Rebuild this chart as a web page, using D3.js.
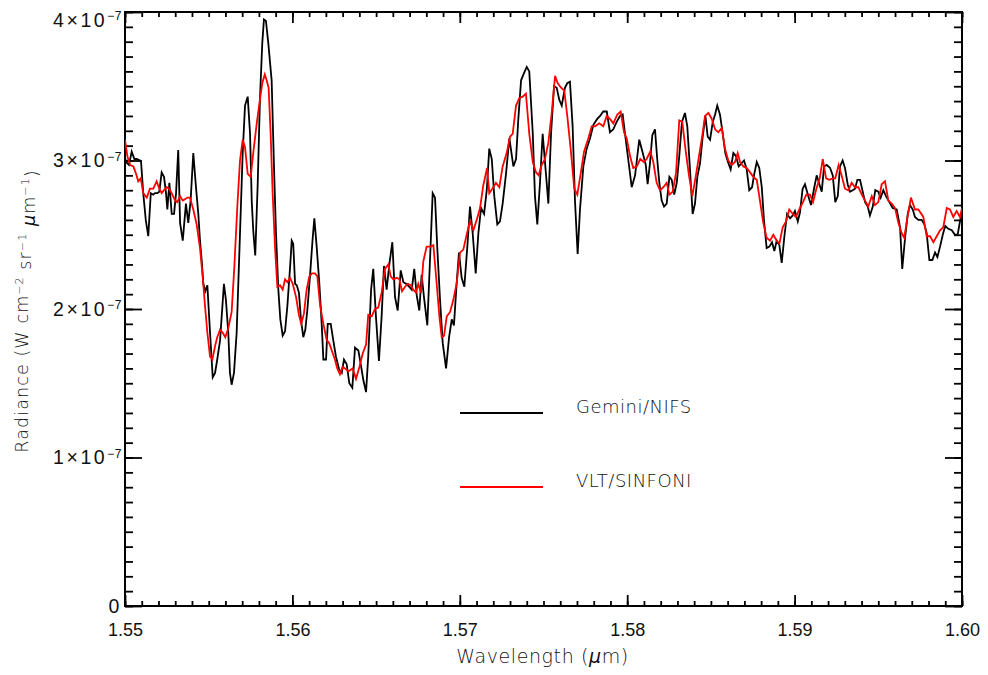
<!DOCTYPE html>
<html>
<head>
<meta charset="utf-8">
<script src="https://cdn.jsdelivr.net/npm/d3@7"></script>
<style>
  body { margin: 0; background: #fff; }
  svg { display: block; background: #fff; font-family: "DejaVu Sans", sans-serif; }
  .axis text { fill: #111; font-size: 18px; font-weight: 200; }
  .y-axis text { font-size: 19.5px; letter-spacing: 2.6px; }
  .axis line { stroke: #000; stroke-width: 1.8px; }
  .axis .domain { display: none; }
  .frame { fill: none; stroke: #000; stroke-width: 2px; }
  .title { fill: #111; font-weight: 200; }
  .series { fill: none; stroke-width: 1.8px; }
</style>
</head>
<body>
<svg id="chart"></svg>
<script>
// Radiance values are in units of 1e-7 W cm^-2 sr^-1 um^-1, wavelength in um

const geminiWavelength = [
  1.55000, 1.55006, 1.55024, 1.55040, 1.55056, 1.55070, 1.55090, 1.55096, 1.55109, 1.55124,
  1.55139, 1.55154, 1.55169, 1.55179, 1.55193, 1.55205, 1.55219, 1.55233, 1.55245, 1.55253,
  1.55265, 1.55279, 1.55293, 1.55305, 1.55318, 1.55329, 1.55345, 1.55364, 1.55378, 1.55392,
  1.55408, 1.55424, 1.55438, 1.55448, 1.55458, 1.55468, 1.55480, 1.55492, 1.55508, 1.55524,
  1.55538, 1.55551, 1.55568, 1.55591, 1.55603, 1.55617, 1.55627, 1.55637, 1.55651, 1.55667,
  1.55687, 1.55703, 1.55717, 1.55733, 1.55747, 1.55757, 1.55766, 1.55778, 1.55793, 1.55806,
  1.55820, 1.55830, 1.55842, 1.55856, 1.55876, 1.55890, 1.55902, 1.55916, 1.55928, 1.55942,
  1.55956, 1.55970, 1.55986, 1.55996, 1.56005, 1.56016, 1.56026, 1.56039, 1.56051, 1.56065,
  1.56077, 1.56089, 1.56105, 1.56120, 1.56131, 1.56145, 1.56161, 1.56175, 1.56185, 1.56201,
  1.56211, 1.56229, 1.56244, 1.56260, 1.56280, 1.56295, 1.56308, 1.56324, 1.56340, 1.56358,
  1.56374, 1.56394, 1.56408, 1.56424, 1.56440, 1.56453, 1.56470, 1.56483, 1.56499, 1.56517,
  1.56533, 1.56547, 1.56563, 1.56579, 1.56597, 1.56613, 1.56629, 1.56647, 1.56663, 1.56679,
  1.56697, 1.56713, 1.56728, 1.56743, 1.56758, 1.56772, 1.56786, 1.56806, 1.56822, 1.56838,
  1.56852, 1.56866, 1.56882, 1.56898, 1.56918, 1.56936, 1.56952, 1.56965, 1.56981, 1.56995,
  1.57011, 1.57027, 1.57045, 1.57061, 1.57077, 1.57095, 1.57111, 1.57127, 1.57145, 1.57161,
  1.57176, 1.57191, 1.57206, 1.57224, 1.57240, 1.57256, 1.57276, 1.57296, 1.57320, 1.57336,
  1.57349, 1.57366, 1.57384, 1.57400, 1.57415, 1.57436, 1.57449, 1.57463, 1.57479, 1.57495,
  1.57511, 1.57529, 1.57545, 1.57563, 1.57579, 1.57594, 1.57609, 1.57628, 1.57642, 1.57658,
  1.57674, 1.57688, 1.57704, 1.57718, 1.57738, 1.57758, 1.57778, 1.57798, 1.57821, 1.57838,
  1.57857, 1.57878, 1.57897, 1.57917, 1.57937, 1.57957, 1.57973, 1.57987, 1.58007, 1.58027,
  1.58047, 1.58072, 1.58093, 1.58111, 1.58122, 1.58136, 1.58150, 1.58166, 1.58180, 1.58192,
  1.58206, 1.58220, 1.58236, 1.58252, 1.58266, 1.58281, 1.58296, 1.58311, 1.58327, 1.58345,
  1.58359, 1.58375, 1.58391, 1.58405, 1.58419, 1.58435, 1.58451, 1.58467, 1.58481, 1.58495,
  1.58511, 1.58525, 1.58538, 1.58554, 1.58571, 1.58586, 1.58602, 1.58618, 1.58634, 1.58650,
  1.58666, 1.58682, 1.58698, 1.58714, 1.58729, 1.58746, 1.58759, 1.58774, 1.58789, 1.58804,
  1.58817, 1.58833, 1.58849, 1.58865, 1.58879, 1.58893, 1.58909, 1.58923, 1.58939, 1.58955,
  1.58973, 1.58989, 1.59002, 1.59019, 1.59032, 1.59048, 1.59062, 1.59082, 1.59098, 1.59116,
  1.59132, 1.59148, 1.59162, 1.59176, 1.59192, 1.59212, 1.59228, 1.59243, 1.59258, 1.59271,
  1.59287, 1.59301, 1.59317, 1.59331, 1.59347, 1.59361, 1.59375, 1.59391, 1.59407, 1.59421,
  1.59437, 1.59450, 1.59467, 1.59482, 1.59500, 1.59514, 1.59530, 1.59546, 1.59566, 1.59586,
  1.59610, 1.59630, 1.59643, 1.59660, 1.59676, 1.59689, 1.59706, 1.59719, 1.59739, 1.59759,
  1.59775, 1.59789, 1.59805, 1.59823, 1.59839, 1.59853, 1.59869, 1.59885, 1.59900, 1.59918,
  1.59939, 1.59958, 1.59974, 1.59988, 1.60000
];

const geminiRadiance = [
  3.02, 2.99, 2.97, 3.06, 3.01, 3.01, 3.00, 2.99, 2.78, 2.60,
  2.49, 2.78, 2.77, 2.78, 2.78, 2.79, 2.92, 2.89, 2.78, 2.67,
  2.85, 2.64, 2.64, 2.78, 3.07, 2.58, 2.46, 2.71, 2.58, 2.73,
  3.05, 2.82, 2.64, 2.46, 2.33, 2.17, 2.12, 2.16, 1.84, 1.54,
  1.57, 1.66, 1.79, 2.17, 2.06, 1.84, 1.57, 1.49, 1.57, 1.84,
  2.51, 3.05, 3.37, 3.43, 3.18, 2.73, 2.53, 2.36, 2.85, 3.41,
  3.79, 3.95, 3.94, 3.79, 3.54, 2.96, 2.51, 2.13, 1.93, 1.82,
  1.85, 2.02, 2.28, 2.46, 2.44, 2.17, 2.16, 2.11, 1.93, 1.81,
  1.86, 1.99, 2.22, 2.46, 2.61, 2.42, 2.17, 1.90, 1.66, 1.66,
  1.90, 1.90, 1.79, 1.68, 1.59, 1.57, 1.66, 1.63, 1.50, 1.47,
  1.74, 1.72, 1.63, 1.52, 1.44, 1.68, 2.13, 2.27, 1.95, 1.65,
  1.95, 2.29, 2.13, 2.30, 2.45, 2.08, 1.99, 2.26, 2.18, 2.17,
  2.15, 2.13, 2.27, 2.09, 1.99, 2.23, 2.08, 1.89, 2.33, 2.78,
  2.75, 2.40, 2.06, 1.77, 1.60, 1.81, 1.93, 1.89, 2.17, 2.38,
  2.21, 2.15, 2.42, 2.69, 2.51, 2.24, 2.51, 2.68, 2.64, 2.80,
  3.08, 3.01, 2.76, 2.57, 2.59, 2.71, 2.91, 3.15, 2.96, 3.01,
  3.27, 3.54, 3.59, 3.63, 3.60, 3.18, 2.76, 2.57, 2.85, 3.18,
  2.96, 2.71, 3.18, 3.50, 3.49, 3.41, 3.37, 3.49, 3.52, 3.53,
  3.23, 2.73, 2.37, 2.67, 2.96, 3.08, 3.15, 3.24, 3.28, 3.30,
  3.33, 3.33, 3.19, 3.21, 3.26, 3.30, 3.31, 3.18, 3.00, 2.82,
  2.90, 3.14, 3.05, 2.97, 2.84, 2.98, 3.17, 3.21, 3.00, 2.85,
  2.73, 2.69, 2.71, 2.89, 2.87, 2.77, 2.85, 3.03, 3.26, 3.32,
  3.23, 2.94, 2.64, 2.71, 2.89, 2.98, 3.16, 3.30, 3.16, 3.14,
  3.26, 3.31, 3.37, 3.31, 3.18, 3.05, 2.99, 2.94, 3.05, 3.03,
  2.96, 2.98, 3.00, 2.94, 2.80, 2.82, 2.91, 2.99, 2.95, 2.82,
  2.60, 2.41, 2.42, 2.45, 2.39, 2.46, 2.43, 2.31, 2.49, 2.64,
  2.61, 2.63, 2.66, 2.59, 2.65, 2.81, 2.84, 2.76, 2.70, 2.81,
  2.90, 2.84, 2.79, 2.96, 2.97, 2.95, 2.90, 2.72, 2.76, 2.96,
  3.00, 2.95, 2.84, 2.79, 2.80, 2.81, 2.87, 2.87, 2.79, 2.72,
  2.69, 2.63, 2.69, 2.80, 2.79, 2.75, 2.80, 2.76, 2.72, 2.68,
  2.67, 2.55, 2.27, 2.48, 2.64, 2.70, 2.67, 2.62, 2.60, 2.60,
  2.57, 2.51, 2.33, 2.33, 2.38, 2.35, 2.42, 2.50, 2.56, 2.54,
  2.53, 2.50, 2.50, 2.59, 2.65
];

const sinfoniWavelength = [
  1.55000, 1.55014, 1.55030, 1.55050, 1.55066, 1.55079, 1.55094, 1.55109, 1.55130, 1.55149,
  1.55169, 1.55189, 1.55205, 1.55219, 1.55233, 1.55249, 1.55263, 1.55279, 1.55299, 1.55312,
  1.55329, 1.55345, 1.55360, 1.55372, 1.55388, 1.55408, 1.55428, 1.55448, 1.55464, 1.55478,
  1.55492, 1.55508, 1.55522, 1.55538, 1.55551, 1.55568, 1.55584, 1.55599, 1.55617, 1.55637,
  1.55653, 1.55671, 1.55687, 1.55703, 1.55717, 1.55733, 1.55751, 1.55766, 1.55787, 1.55806,
  1.55820, 1.55835, 1.55846, 1.55858, 1.55870, 1.55882, 1.55896, 1.55910, 1.55926, 1.55942,
  1.55956, 1.55970, 1.55986, 1.56002, 1.56022, 1.56039, 1.56053, 1.56069, 1.56085, 1.56101,
  1.56117, 1.56135, 1.56149, 1.56165, 1.56185, 1.56205, 1.56220, 1.56235, 1.56254, 1.56268,
  1.56284, 1.56300, 1.56314, 1.56334, 1.56360, 1.56380, 1.56400, 1.56420, 1.56440, 1.56453,
  1.56474, 1.56493, 1.56513, 1.56533, 1.56553, 1.56573, 1.56587, 1.56603, 1.56623, 1.56639,
  1.56655, 1.56673, 1.56689, 1.56707, 1.56722, 1.56738, 1.56752, 1.56768, 1.56782, 1.56802,
  1.56826, 1.56842, 1.56862, 1.56878, 1.56892, 1.56906, 1.56922, 1.56942, 1.56961, 1.56981,
  1.57001, 1.57021, 1.57041, 1.57061, 1.57081, 1.57101, 1.57121, 1.57140, 1.57163, 1.57176,
  1.57194, 1.57216, 1.57236, 1.57256, 1.57280, 1.57300, 1.57316, 1.57336, 1.57355, 1.57376,
  1.57395, 1.57415, 1.57436, 1.57455, 1.57471, 1.57489, 1.57509, 1.57529, 1.57549, 1.57569,
  1.57585, 1.57605, 1.57624, 1.57642, 1.57663, 1.57684, 1.57702, 1.57722, 1.57742, 1.57768,
  1.57788, 1.57808, 1.57833, 1.57857, 1.57878, 1.57897, 1.57917, 1.57941, 1.57961, 1.57981,
  1.57997, 1.58017, 1.58036, 1.58057, 1.58078, 1.58099, 1.58116, 1.58138, 1.58156, 1.58176,
  1.58196, 1.58216, 1.58236, 1.58252, 1.58272, 1.58292, 1.58311, 1.58329, 1.58350, 1.58369,
  1.58389, 1.58409, 1.58429, 1.58449, 1.58465, 1.58485, 1.58505, 1.58525, 1.58544, 1.58565,
  1.58584, 1.58604, 1.58624, 1.58644, 1.58660, 1.58674, 1.58694, 1.58714, 1.58734, 1.58753,
  1.58774, 1.58793, 1.58813, 1.58833, 1.58853, 1.58873, 1.58893, 1.58909, 1.58929, 1.58949,
  1.58968, 1.58989, 1.59008, 1.59028, 1.59050, 1.59070, 1.59092, 1.59110, 1.59130, 1.59150,
  1.59168, 1.59188, 1.59207, 1.59228, 1.59243, 1.59263, 1.59283, 1.59301, 1.59321, 1.59341,
  1.59361, 1.59381, 1.59401, 1.59421, 1.59440, 1.59461, 1.59480, 1.59500, 1.59520, 1.59540,
  1.59560, 1.59580, 1.59600, 1.59620, 1.59640, 1.59655, 1.59673, 1.59695, 1.59719, 1.59739,
  1.59769, 1.59789, 1.59809, 1.59829, 1.59849, 1.59869, 1.59888, 1.59909, 1.59928, 1.59948,
  1.59968, 1.59988, 1.60000
];

const sinfoniRadiance = [
  3.14, 3.03, 2.97, 2.96, 2.91, 2.86, 2.88, 2.78, 2.75, 2.81,
  2.81, 2.86, 2.81, 2.78, 2.80, 2.82, 2.81, 2.78, 2.73, 2.72,
  2.76, 2.73, 2.74, 2.75, 2.75, 2.67, 2.57, 2.41, 2.22, 2.02,
  1.84, 1.68, 1.66, 1.75, 1.81, 1.86, 1.84, 1.81, 1.87, 1.98,
  2.28, 2.69, 3.00, 3.14, 3.09, 2.91, 2.89, 3.05, 3.25, 3.41,
  3.52, 3.58, 3.54, 3.49, 3.18, 2.78, 2.42, 2.15, 2.16, 2.13,
  2.20, 2.18, 2.21, 2.17, 2.08, 1.96, 1.90, 1.97, 2.13, 2.22,
  2.24, 2.24, 2.22, 2.03, 1.90, 1.79, 1.77, 1.72, 1.66, 1.60,
  1.56, 1.61, 1.60, 1.58, 1.60, 1.53, 1.61, 1.70, 1.76, 1.96,
  1.95, 2.00, 2.01, 2.11, 2.27, 2.30, 2.22, 2.20, 2.21, 2.20,
  2.12, 2.15, 2.17, 2.16, 2.13, 2.11, 2.17, 2.11, 2.32, 2.42,
  2.42, 2.43, 2.17, 1.95, 1.81, 1.82, 1.95, 1.98, 2.06, 2.17,
  2.38, 2.40, 2.50, 2.59, 2.53, 2.60, 2.68, 2.83, 2.95, 2.78,
  2.81, 2.85, 2.82, 2.96, 3.05, 3.16, 3.18, 3.37, 3.42, 3.43,
  3.45, 3.18, 2.99, 2.92, 2.90, 2.97, 3.01, 3.12, 3.32, 3.57,
  3.52, 3.49, 3.47, 3.30, 3.07, 2.81, 2.77, 2.91, 3.06, 3.15,
  3.23, 3.23, 3.25, 3.23, 3.30, 3.28, 3.25, 3.31, 3.33, 3.19,
  3.15, 3.03, 2.95, 2.96, 3.01, 2.99, 3.01, 3.06, 2.99, 2.85,
  2.80, 2.82, 2.85, 2.77, 2.79, 2.92, 3.27, 3.26, 3.06, 2.90,
  2.76, 2.89, 3.03, 3.17, 3.30, 3.32, 3.28, 3.21, 3.19, 3.22,
  3.08, 3.00, 2.97, 2.99, 3.05, 2.99, 2.96, 2.95, 2.92, 2.89,
  2.87, 2.73, 2.58, 2.48, 2.46, 2.50, 2.46, 2.44, 2.55, 2.59,
  2.67, 2.64, 2.62, 2.67, 2.72, 2.77, 2.77, 2.72, 2.81, 2.88,
  3.01, 2.88, 2.87, 2.88, 2.88, 2.97, 2.89, 2.81, 2.80, 2.85,
  2.82, 2.82, 2.77, 2.73, 2.69, 2.76, 2.70, 2.72, 2.84, 2.86,
  2.73, 2.71, 2.68, 2.58, 2.51, 2.48, 2.61, 2.75, 2.67, 2.67,
  2.62, 2.49, 2.49, 2.45, 2.49, 2.53, 2.55, 2.68, 2.67, 2.62,
  2.66, 2.62, 2.68
];

const xTickValues = [1.55, 1.56, 1.57, 1.58, 1.59, 1.60];
const yTickValues = [0, 1, 2, 3, 4];   // x 1e-7
const xMinorStep = 0.001;
const yMinorStep = 0.1;
const seriesNames = ['Gemini/NIFS', 'VLT/SINFONI'];
const seriesColors = ['#000000', '#ff0000'];

class SpectrumChart {
    constructor(_config, _series) {
        this.config = {
            parentElement: _config.parentElement,
            width: _config.width,
            height: _config.height,
            margin: _config.margin
        };
        this.series = _series;
        this.initVis();
    }

    initVis() {
        let vis = this;

        vis.width = vis.config.width - vis.config.margin.left - vis.config.margin.right;
        vis.height = vis.config.height - vis.config.margin.top - vis.config.margin.bottom;

        vis.xScale = d3.scaleLinear()
            .domain(d3.extent(xTickValues))
            .range([0, vis.width]);
        vis.yScale = d3.scaleLinear()
            .domain(d3.extent(yTickValues))
            .range([vis.height, 0]);

        const xMinor = d3.range(Math.round((xTickValues[5] - xTickValues[0]) / xMinorStep) + 1)
            .map(i => xTickValues[0] + i * xMinorStep);
        const yMinor = d3.range(Math.round((yTickValues[4] - yTickValues[0]) / yMinorStep) + 1)
            .map(i => yTickValues[0] + i * yMinorStep);

        vis.svg = d3.select(vis.config.parentElement)
            .attr('width', vis.config.width)
            .attr('height', vis.config.height);

        vis.chart = vis.svg.append('g')
            .attr('transform', `translate(${vis.config.margin.left},${vis.config.margin.top})`);

        vis.svg.append('defs').append('clipPath')
            .attr('id', 'plot-clip')
            .append('rect')
            .attr('width', vis.width)
            .attr('height', vis.height);

        // ticks point inward on all four sides, like an IDL plot box
        const axes = [
            {axis: d3.axisBottom(vis.xScale).tickValues(xMinor).tickSize(-5).tickFormat(''), t: `translate(0,${vis.height})`},
            {axis: d3.axisTop(vis.xScale).tickValues(xMinor).tickSize(-5).tickFormat(''), t: 'translate(0,0)'},
            {axis: d3.axisTop(vis.xScale).tickValues(xTickValues).tickSize(-11).tickFormat(''), t: 'translate(0,0)'},
            {axis: d3.axisLeft(vis.yScale).tickValues(yMinor).tickSize(-8).tickFormat(''), t: 'translate(0,0)'},
            {axis: d3.axisRight(vis.yScale).tickValues(yMinor).tickSize(-8).tickFormat(''), t: `translate(${vis.width},0)`},
            {axis: d3.axisRight(vis.yScale).tickValues(yTickValues).tickSize(-17).tickFormat(''), t: `translate(${vis.width},0)`}
        ];
        axes.forEach(a => {
            vis.chart.append('g')
                .attr('class', 'axis')
                .attr('transform', a.t)
                .call(a.axis);
        });

        vis.xAxisG = vis.chart.append('g')
            .attr('class', 'axis x-axis')
            .attr('transform', `translate(0,${vis.height})`)
            .call(d3.axisBottom(vis.xScale)
                .tickValues(xTickValues)
                .tickSize(-11)
                .tickPadding(17)
                .tickFormat(d3.format('.2f')));

        vis.yAxisG = vis.chart.append('g')
            .attr('class', 'axis y-axis')
            .call(d3.axisLeft(vis.yScale)
                .tickValues(yTickValues)
                .tickSize(-17)
                .tickPadding(3)
                .tickFormat(d => d));

        // n x 10^-7 labels
        vis.yAxisG.selectAll('.tick text').each(function(d) {
            const t = d3.select(this);
            if (d === 0) return;
            t.text(null)
                .attr('y', d === yTickValues[yTickValues.length - 1] ? 8 : 0);
            t.append('tspan').text(d + '×10');
            t.append('tspan')
                .attr('dy', '-0.55em')
                .style('font-size', '12px')
                .style('letter-spacing', '0.5px')
                .text('−7');
        });

        vis.chart.append('rect')
            .attr('class', 'frame')
            .attr('width', vis.width)
            .attr('height', vis.height);

        // axis titles
        vis.svg.append('text')
            .attr('class', 'title')
            .attr('x', vis.config.margin.left + vis.width / 2 - 1)
            .attr('y', 663)
            .attr('text-anchor', 'middle')
            .style('font-size', '19px')
            .style('letter-spacing', '0.6px')
            .call(t => {
                t.append('tspan').text('Wavelength (');
                t.append('tspan').style('font-style', 'italic').text('μ');
                t.append('tspan').text('m)');
            });

        const yTitle = vis.svg.append('text')
            .attr('class', 'title')
            .attr('transform', 'translate(28,311) rotate(-90)')
            .attr('text-anchor', 'middle')
            .style('font-size', '17.5px')
            .style('letter-spacing', '1.1px');
        const sup = (txt) => {
            yTitle.append('tspan').attr('dy', '-0.5em').style('font-size', '11px').text(txt);
        };
        yTitle.append('tspan').text('Radiance (W cm');
        sup('−2');
        yTitle.append('tspan').attr('dy', '0.5em').text(' sr');
        sup('−1');
        yTitle.append('tspan').attr('dy', '0.5em').text(' ');
        yTitle.append('tspan').style('font-style', 'italic').text('μ');
        yTitle.append('tspan').text('m');
        sup('−1');
        yTitle.append('tspan').attr('dy', '0.5em').text(')');

        vis.plotG = vis.chart.append('g')
            .attr('clip-path', 'url(#plot-clip)');

        vis.legendG = vis.chart.append('g')
            .attr('transform', 'translate(335,401)');

        vis.renderVis();
    }

    renderVis() {
        let vis = this;

        vis.line = d3.line()
            .x(d => vis.xScale(d.wavelength))
            .y(d => vis.yScale(d.radiance));

        vis.plotG.selectAll('.series')
            .data(vis.series)
            .join('path')
            .attr('class', 'series')
            .attr('stroke', d => d.color)
            .attr('d', d => vis.line(d.values));

        const entry = vis.legendG.selectAll('.legend-entry')
            .data(vis.series)
            .join('g')
            .attr('class', 'legend-entry')
            .attr('transform', (d, i) => `translate(0,${i * 74})`);

        entry.append('line')
            .attr('x1', 0)
            .attr('x2', 83)
            .attr('stroke', d => d.color)
            .attr('stroke-width', 1.8);

        entry.append('text')
            .attr('class', 'title')
            .attr('x', 116)
            .attr('y', 0)
            .style('font-size', '18px')
            .style('letter-spacing', '0.5px')
            .text(d => d.name);
    }
}

const series = [
    {name: seriesNames[0], color: seriesColors[0],
     values: geminiWavelength.map((w, i) => ({wavelength: w, radiance: geminiRadiance[i]}))},
    {name: seriesNames[1], color: seriesColors[1],
     values: sinfoniWavelength.map((w, i) => ({wavelength: w, radiance: sinfoniRadiance[i]}))}
];

new SpectrumChart({
    parentElement: '#chart',
    width: 988,
    height: 675,
    margin: {top: 12, right: 26, bottom: 69, left: 125}
}, series);
</script>
</body>
</html>
